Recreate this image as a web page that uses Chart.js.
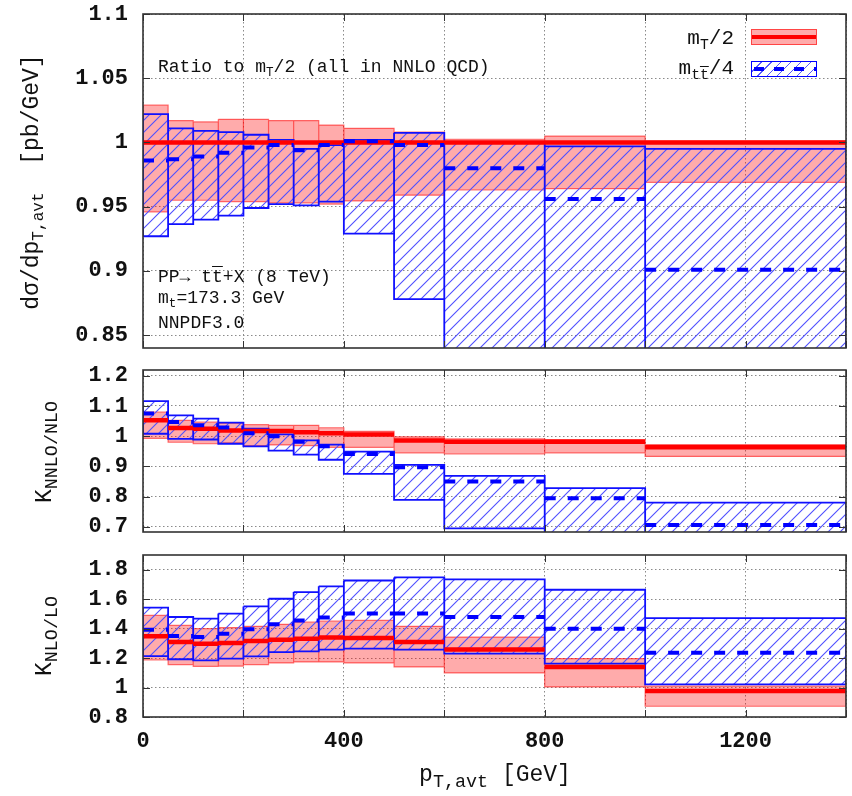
<!DOCTYPE html>
<html>
<head>
<meta charset="utf-8">
<script src="https://cdn.jsdelivr.net/npm/chart.js@4.4.0/dist/chart.umd.min.js"></script>
<style>
  body { margin: 0; background: #fff; }
  #wrap { position: relative; width: 852px; height: 796px; font-family: "Liberation Mono", monospace; color: #111; overflow: hidden; }
  #wrap canvas { position: absolute; left: 0; }
  .txt { position: absolute; white-space: nowrap; line-height: 1; font-size: 18px; z-index: 2; }
  .txt sub { font-size: 70%; vertical-align: -0.35em; line-height: 0; }
  .ov { text-decoration: overline; }
  .rot { position: absolute; white-space: nowrap; line-height: 1; transform: translate(-50%, -50%) rotate(-90deg); z-index: 2; }
  .rot sub { font-size: 70%; vertical-align: -0.35em; line-height: 0; }
  .big sub { font-size: 80%; }
  .sw { position: absolute; box-sizing: border-box; z-index: 2; }
</style>
</head>
<body>
<div id="wrap">
  <canvas id="c1" width="852" height="370" style="top:0px"></canvas>
  <canvas id="c2" width="852" height="220" style="top:340px"></canvas>
  <canvas id="c3" width="852" height="266" style="top:530px"></canvas>

  <div class="txt" style="left:158px;top:58px;">Ratio to m<sub>T</sub>/2 (all in NNLO QCD)</div>
  <div class="txt" style="left:158px;top:268px;">PP&rarr; t<span class="ov">t</span>+X (8 TeV)</div>
  <div class="txt" style="left:158px;top:289px;">m<sub>t</sub>=173.3 GeV</div>
  <div class="txt" style="left:158px;top:314px;">NNPDF3.0</div>

  <div class="txt" style="right:118px;top:28px;font-size:21px;">m<sub>T</sub>/2</div>
  <div class="txt" style="right:118px;top:58px;font-size:21px;">m<sub>t<span class="ov">t</span></sub>/4</div>
  <div class="sw" style="left:751px;top:29px;width:66px;height:16px;background:rgba(255,0,0,0.33);border:1px solid rgba(255,0,0,0.6);">
    <div style="position:absolute;left:0;right:0;top:5px;height:4px;background:#f00;"></div>
  </div>
  <div class="sw" style="left:751px;top:61px;width:66px;height:16px;border:1.5px solid #00f;background:repeating-linear-gradient(-45deg, transparent 0 6px, rgba(70,70,255,0.9) 6px 7px);">
    <div style="position:absolute;left:2px;right:0;top:4.5px;height:4px;background:repeating-linear-gradient(90deg,#00f 0 10px,transparent 10px 20px);"></div>
  </div>

  <div class="rot" style="left:32px;top:182px;font-size:23px;">d&sigma;/dp<sub>T,avt</sub>&nbsp; [pb/GeV]</div>
  <div class="rot big" style="left:45px;top:452px;font-size:23px;">K<sub>NNLO/NLO</sub></div>
  <div class="rot big" style="left:45px;top:636px;font-size:23px;">K<sub>NLO/LO</sub></div>
  <div class="txt big" style="left:495px;top:764px;transform:translateX(-50%);font-size:23px;">p<sub>T,avt</sub> [GeV]</div>
</div>

<script>
// bin edges in p_T,avt [GeV]
const EDGES = [0, 50, 100, 150, 200, 250, 300, 350, 400, 500, 600, 800, 1000, 1400];

// panel 1: ratio to m_T/2
const RATIO_MT_C   = [1, 1, 1, 1, 1, 1, 1, 1, 1, 1, 1, 1, 1];
const RATIO_MT_UP  = [1.029, 1.017, 1.016, 1.018, 1.018, 1.017, 1.017, 1.0135, 1.011, 1.008, 1.0025, 1.005, 1.001];
const RATIO_MT_DN  = [0.946, 0.955, 0.955, 0.954, 0.954, 0.953, 0.953, 0.952, 0.9545, 0.959, 0.963, 0.964, 0.969];
const RATIO_MTT_C  = [0.986, 0.987, 0.989, 0.992, 0.996, 0.998, 0.994, 0.998, 1.001, 0.998, 0.980, 0.956, 0.901];
const RATIO_MTT_UP = [1.022, 1.011, 1.009, 1.008, 1.006, 1.002, 0.995, 0.998, 1.002, 1.0075, 1.0, 0.997, 0.995];
const RATIO_MTT_DN = [0.927, 0.9365, 0.940, 0.943, 0.949, 0.952, 0.951, 0.954, 0.929, 0.878, 0.80, 0.80, 0.80];

// panel 2: K NNLO/NLO
const KNN_MT_C   = [1.053, 1.027, 1.025, 1.019, 1.017, 1.017, 1.013, 1.010, 1.006, 0.986, 0.982, 0.982, 0.963];
const KNN_MT_UP  = [1.080, 1.052, 1.047, 1.043, 1.038, 1.036, 1.036, 1.028, 1.016, 0.998, 0.991, 0.989, 0.972];
const KNN_MT_DN  = [0.993, 0.980, 0.975, 0.978, 0.969, 0.971, 0.969, 0.963, 0.963, 0.945, 0.941, 0.945, 0.933];
const KNN_MTT_C  = [1.075, 1.047, 1.036, 1.029, 1.010, 1.000, 0.982, 0.967, 0.941, 0.897, 0.850, 0.795, 0.706];
const KNN_MTT_UP = [1.116, 1.069, 1.058, 1.045, 1.025, 1.006, 0.986, 0.972, 0.949, 0.905, 0.869, 0.828, 0.780];
const KNN_MTT_DN = [1.008, 0.991, 0.989, 0.975, 0.966, 0.952, 0.939, 0.922, 0.875, 0.789, 0.695, 0.680, 0.660];

// panel 3: K NLO/LO
const KN_MT_C   = [1.349, 1.309, 1.298, 1.302, 1.316, 1.325, 1.332, 1.339, 1.336, 1.309, 1.258, 1.140, 0.977];
const KN_MT_UP  = [1.490, 1.422, 1.400, 1.407, 1.416, 1.429, 1.445, 1.452, 1.456, 1.416, 1.343, 1.197, 1.009];
const KN_MT_DN  = [1.187, 1.156, 1.144, 1.146, 1.156, 1.167, 1.174, 1.174, 1.167, 1.140, 1.099, 1.004, 0.873];
const KN_MTT_C  = [1.392, 1.350, 1.343, 1.366, 1.395, 1.429, 1.456, 1.475, 1.502, 1.502, 1.479, 1.400, 1.237];
const KN_MTT_UP = [1.542, 1.479, 1.468, 1.502, 1.551, 1.603, 1.648, 1.687, 1.727, 1.748, 1.734, 1.664, 1.472];
const KN_MTT_DN = [1.214, 1.192, 1.185, 1.197, 1.212, 1.241, 1.246, 1.258, 1.264, 1.258, 1.230, 1.163, 1.022];

// ticks
const X_TICKS = [0, 200, 400, 600, 800, 1000, 1200, 1400];
const X_LABELS = [0, 400, 800, 1200];
const Y1_TICKS = [0.85, 0.9, 0.95, 1, 1.05, 1.1];
const Y2_TICKS = [0.7, 0.8, 0.9, 1, 1.1, 1.2];
const Y3_TICKS = [0.8, 1, 1.2, 1.4, 1.6, 1.8];

Chart.defaults.font.family = '"Liberation Mono", monospace';
Chart.defaults.color = '#111';

// diagonal hatch for the m_tt/4 bands
function makeHatch() {
    const c = document.createElement('canvas');
    c.width = c.height = 12;
    const g = c.getContext('2d');
    g.strokeStyle = 'rgb(80,80,255)';
    g.lineWidth = 1.1;
    g.beginPath();
    g.moveTo(0, 12); g.lineTo(12, 0);
    g.moveTo(-6, 6); g.lineTo(6, -6);
    g.moveTo(6, 18); g.lineTo(18, 6);
    g.stroke();
    return g.createPattern(c, 'repeat');
}
const HATCH = makeHatch();

// one closed rectangle per bin, separated by gaps
function boxes(lo, hi) {
    const pts = [];
    for (let i = 0; i < lo.length; i++) {
        const a = EDGES[i], b = EDGES[i + 1];
        pts.push({x: a, y: hi[i]}, {x: b, y: hi[i]}, {x: b, y: lo[i]}, {x: a, y: lo[i]}, {x: a, y: hi[i]}, {x: a, y: null});
    }
    return pts;
}
// horizontal level per bin
function levels(v) {
    const pts = [];
    for (let i = 0; i < v.length; i++) {
        pts.push({x: EDGES[i], y: v[i]}, {x: EDGES[i + 1], y: v[i]}, {x: EDGES[i + 1], y: null});
    }
    return pts;
}

function panelSets(mtC, mtUp, mtDn, mttC, mttUp, mttDn) {
    return [
        { data: boxes(mtDn, mtUp), fill: 'shape', backgroundColor: 'rgba(255,0,0,0.33)',
          borderColor: 'rgba(255,0,0,0.55)', borderWidth: 1.2, order: 4 },
        { data: boxes(mttDn, mttUp), fill: 'shape', backgroundColor: HATCH,
          borderColor: '#1010ff', borderWidth: 1.8, order: 3 },
        { data: levels(mtC), borderColor: '#ff0000', borderWidth: 4.5, borderCapStyle: 'butt', order: 2 },
        { data: levels(mttC), borderColor: '#0000ff', borderWidth: 4, borderDash: [11, 12], borderCapStyle: 'butt', order: 1 }
    ];
}

const framePlugin = {
    id: 'frame',
    afterDraw(chart) {
        const {ctx, chartArea: a, scales} = chart;
        ctx.save();
        ctx.strokeStyle = '#333';
        ctx.lineWidth = 1;
        ctx.beginPath();
        scales.x.ticks.forEach(t => {
            const px = Math.round(scales.x.getPixelForValue(t.value)) + 0.5;
            ctx.moveTo(px, a.bottom); ctx.lineTo(px, a.bottom - 7);
            ctx.moveTo(px, a.top); ctx.lineTo(px, a.top + 7);
        });
        scales.y.ticks.forEach(t => {
            const py = Math.round(scales.y.getPixelForValue(t.value)) + 0.5;
            ctx.moveTo(a.left, py); ctx.lineTo(a.left + 7, py);
            ctx.moveTo(a.right, py); ctx.lineTo(a.right - 7, py);
        });
        ctx.stroke();
        ctx.lineWidth = 1.6;
        ctx.strokeRect(a.left, a.top, a.right - a.left, a.bottom - a.top);
        ctx.restore();
    }
};

function makePanel(id, pad, yMin, yMax, yTicks, datasets, showX) {
    return new Chart(document.getElementById(id), {
        type: 'line',
        data: { datasets },
        options: {
            responsive: false,
            animation: false,
            devicePixelRatio: 1,
            layout: { padding: { left: 0, right: 6, top: pad[0], bottom: pad[1] } },
            plugins: { legend: { display: false }, tooltip: { enabled: false } },
            elements: { point: { radius: 0 }, line: { tension: 0, borderJoinStyle: 'miter' } },
            scales: {
                x: {
                    type: 'linear', min: 0, max: 1400,
                    afterBuildTicks: ax => { ax.ticks = X_TICKS.map(v => ({value: v})); },
                    afterFit: ax => { ax.height = showX ? 79 : 0; },
                    grid: { color: '#8a8a8a', lineWidth: 1, drawTicks: showX, tickLength: 11, tickColor: 'rgba(0,0,0,0)' },
                    border: { display: false, dash: [1.5, 2.5] },
                    ticks: {
                        display: showX, padding: 0, maxRotation: 0, autoSkip: false,
                        font: { size: 22, weight: 'bold' },
                        callback: v => X_LABELS.includes(v) ? String(v) : ''
                    }
                },
                y: {
                    min: yMin, max: yMax,
                    afterBuildTicks: ax => { ax.ticks = yTicks.map(v => ({value: v})); },
                    afterFit: ax => { ax.width = 143; },
                    grid: { color: '#8a8a8a', lineWidth: 1, drawTicks: true, tickLength: 15, tickColor: 'rgba(0,0,0,0)' },
                    border: { display: false, dash: [1.5, 2.5] },
                    ticks: { padding: 0, font: { size: 22, weight: 'bold' }, callback: v => String(v) }
                }
            }
        },
        plugins: [framePlugin]
    });
}

makePanel('c1', [14, 22], 0.84, 1.1, Y1_TICKS,
    panelSets(RATIO_MT_C, RATIO_MT_UP, RATIO_MT_DN, RATIO_MTT_C, RATIO_MTT_UP, RATIO_MTT_DN), false);
makePanel('c2', [30, 28], 0.683, 1.219, Y2_TICKS,
    panelSets(KNN_MT_C, KNN_MT_UP, KNN_MT_DN, KNN_MTT_C, KNN_MTT_UP, KNN_MTT_DN), false);
makePanel('c3', [25, 0], 0.8, 1.9, Y3_TICKS,
    panelSets(KN_MT_C, KN_MT_UP, KN_MT_DN, KN_MTT_C, KN_MTT_UP, KN_MTT_DN), true);
</script>
</body>
</html>
